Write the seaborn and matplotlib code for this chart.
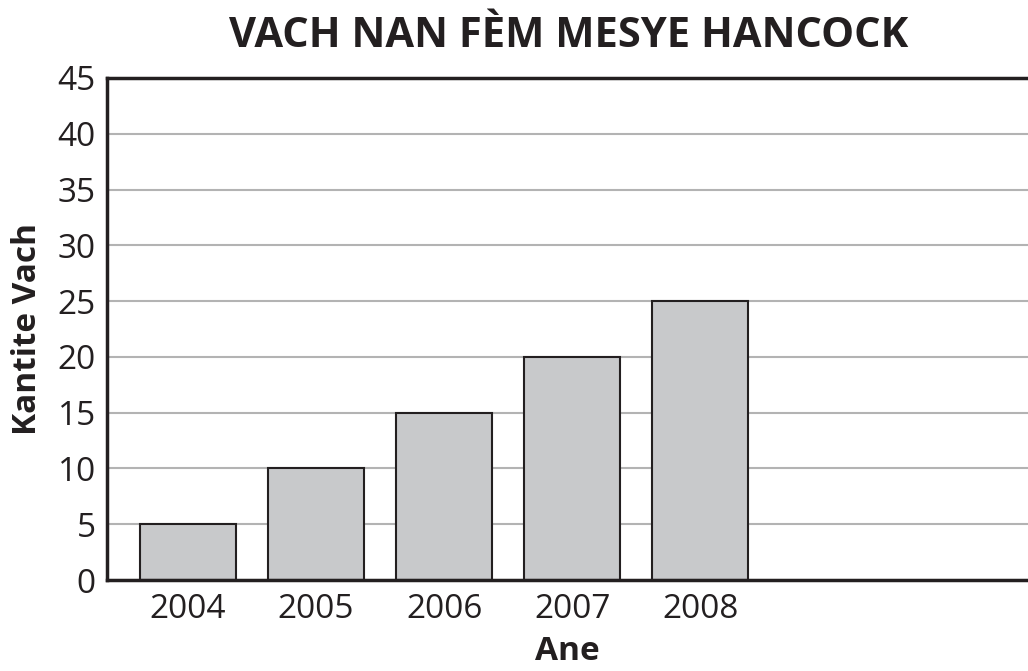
import matplotlib
matplotlib.use("Agg")
import matplotlib.pyplot as plt
import seaborn as sns
import pandas as pd

years = ["2004", "2005", "2006", "2007", "2008"]
counts = [5, 10, 15, 20, 25]
yticks = [0, 5, 10, 15, 20, 25, 30, 35, 40, 45]

sns.set_theme(style="white")
plt.rcParams['font.family'] = ['Open Sans', 'DejaVu Sans']

df = pd.DataFrame({"Ane": years, "Kantite Vach": counts})

fig = plt.figure(figsize=(10.28, 6.71), dpi=100)
ax = fig.add_axes([0.104, 0.1356, 0.896, 0.7482])

ax.yaxis.grid(True, color="#b3b3b3", linewidth=1.5, zorder=0)
ax.set_axisbelow(True)

sns.barplot(data=df, x="Ane", y="Kantite Vach", order=years, color="#c8c9cb",
            width=0.75, edgecolor="#231f20", linewidth=1.5, saturation=1,
            ax=ax, zorder=2)

ax.set_ylim(0, 45)
ax.set_yticks(yticks)
ax.set_xlim(-0.633, 6.56)

for s in ["left", "bottom", "top"]:
    ax.spines[s].set_visible(True)
    ax.spines[s].set_color("#231f20")
    ax.spines[s].set_linewidth(2.5)
ax.spines["right"].set_visible(False)

ax.tick_params(axis="x", length=0, labelsize=24, labelcolor="#231f20", pad=9)
ax.tick_params(axis="y", length=0, labelsize=24, labelcolor="#231f20", pad=8)
ax.set_xlabel("Ane", fontsize=24, fontweight="bold", color="#231f20", labelpad=7)
ax.set_ylabel("Kantite Vach", fontsize=24, fontweight="bold", color="#231f20", labelpad=10)
fig.text(0.553, 0.945, "VACH NAN FÈM MESYE HANCOCK", fontsize=30, fontweight="bold",
         color="#231f20", ha="center", va="center")

fig.savefig("out.png", dpi=100)
